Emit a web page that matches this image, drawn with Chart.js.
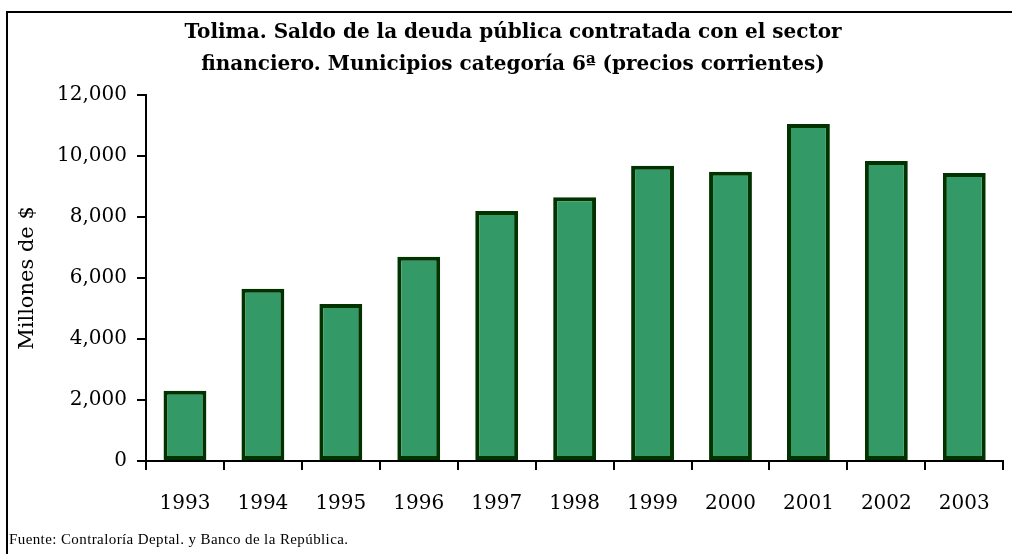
<!DOCTYPE html>
<html>
<head>
<meta charset="utf-8">
<script src="https://cdn.jsdelivr.net/npm/chart.js@4/dist/chart.umd.min.js"></script>
<style>
  html, body { margin: 0; padding: 0; background: #fff; }
  #wrap { width: 1012px; height: 554px; }
</style>
</head>
<body>
<div id="wrap"><canvas id="deudaChart" width="1012" height="554"></canvas></div>
<script>
// datos (millones de $)
var years = ['1993', '1994', '1995', '1996', '1997', '1998', '1999', '2000', '2001', '2002', '2003'];
var saldoDeuda = [2300, 5650, 5150, 6700, 8200, 8650, 9680, 9480, 11050, 9840, 9440];
var yTicks = [0, 2000, 4000, 6000, 8000, 10000, 12000];

var titleLines = ['Tolima. Saldo de la deuda pública contratada con el sector',
                  'financiero. Municipios categoría 6ª (precios corrientes)'];
var fuente = 'Fuente: Contraloría Deptal. y Banco de la República.';

// marco y nota de fuente
var frameAndNote = {
  id: 'frameAndNote',
  beforeDraw: function(chart) {
    var ctx = chart.ctx;
    ctx.save();
    ctx.fillStyle = '#fff';
    ctx.fillRect(0, 0, chart.width, chart.height);
    ctx.strokeStyle = '#000';
    ctx.lineWidth = 2;
    ctx.beginPath();
    ctx.moveTo(7, chart.height);
    ctx.lineTo(7, 12);
    ctx.lineTo(chart.width, 12);
    ctx.stroke();
    ctx.restore();
  },
  afterDraw: function(chart) {
    var ctx = chart.ctx;
    ctx.save();
    ctx.fillStyle = '#000';
    ctx.font = '15px "Liberation Serif"';
    ctx.textBaseline = 'middle';
    ctx.letterSpacing = '0.4px';
    ctx.fillText(fuente, 9, 540);
    ctx.restore();
  }
};

var ctx = document.getElementById('deudaChart').getContext('2d');
var deudaChart = new Chart(ctx, {
  type: 'bar',
  data: {
    labels: years,
    datasets: [{
      data: saldoDeuda,
      backgroundColor: '#339966',
      borderColor: '#003300',
      borderWidth: 4,
      borderSkipped: false,
      categoryPercentage: 1,
      barPercentage: 0.55
    }]
  },
  options: {
    responsive: false,
    animation: false,
    layout: {
      padding: { left: 20, right: 6, top: 0, bottom: 30 }
    },
    plugins: {
      legend: { display: false },
      tooltip: { enabled: false },
      title: {
        display: true,
        text: titleLines,
        color: '#000',
        font: { family: '"DejaVu Serif"', size: 20, weight: 'bold', lineHeight: 1.6 },
        padding: { top: 17, bottom: 14 }
      }
    },
    scales: {
      x: {
        afterFit: function(scale) { scale.height = 63; },
        grid: {
          offset: true,
          drawOnChartArea: false,
          drawTicks: true,
          tickLength: 9,
          color: '#000',
          lineWidth: 2
        },
        border: { color: '#000', width: 2 },
        ticks: {
          color: '#000',
          padding: 22,
          font: { family: '"DejaVu Serif"', size: 20 }
        }
      },
      y: {
        min: 0,
        max: 12000,
        afterFit: function(scale) { scale.width = 126; },
        afterBuildTicks: function(scale) {
          scale.ticks = yTicks.map(function(v) { return { value: v }; });
        },
        grid: {
          drawOnChartArea: false,
          drawTicks: true,
          tickLength: 9,
          color: '#000',
          lineWidth: 2
        },
        border: { color: '#000', width: 2 },
        ticks: {
          color: '#000',
          padding: 10,
          font: { family: '"DejaVu Serif"', size: 20 },
          callback: function(value) { return value.toLocaleString('en-US'); }
        },
        title: {
          display: true,
          text: 'Millones de $',
          color: '#000',
          padding: { top: -3, bottom: 0 },
          font: { family: '"DejaVu Serif"', size: 21, lineHeight: 1 }
        }
      }
    }
  },
  plugins: [frameAndNote]
});
</script>
</body>
</html>
